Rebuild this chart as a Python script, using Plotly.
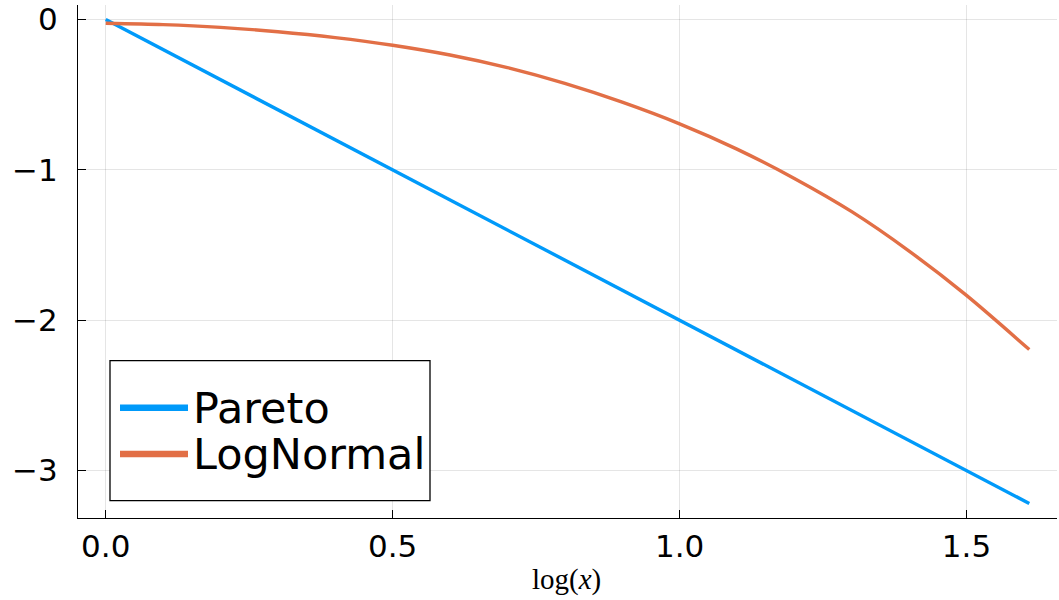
import plotly.graph_objects as go

# ---- data ----
pareto_x = [0.0, 0.5, 1.0, 1.5, 1.6094]
pareto_y = [0.0, -1.0, -2.0, -3.0, -3.2189]

lognormal_x = [0.0, 0.1, 0.2, 0.3, 0.4, 0.5, 0.6, 0.7, 0.8, 0.9, 1.0,
               1.1, 1.2, 1.3, 1.4, 1.5, 1.6094]
lognormal_y = [-0.025, -0.034, -0.052, -0.081, -0.120, -0.171, -0.236, -0.320,
               -0.425, -0.550, -0.694, -0.862, -1.057, -1.278, -1.540, -1.835, -2.195]

series_names = ["Pareto", "LogNormal"]
series_colors = ["#009AFA", "#E26F46"]
x_ticks = [0.0, 0.5, 1.0, 1.5]
y_ticks = [0, -1, -2, -3]

W, H = 1059, 600
L, R, T, B = 78, 2, 5, 82
PW, PH = W - L - R, H - T - B


def px(xp):
    return (xp - L) / PW


def py(yp):
    return (H - B - yp) / PH


fig = go.Figure()
fig.add_trace(go.Scatter(x=pareto_x, y=pareto_y, mode="lines", name=series_names[0],
                         line=dict(color=series_colors[0], width=3.4), showlegend=False))
fig.add_trace(go.Scatter(x=lognormal_x, y=lognormal_y, mode="lines", name=series_names[1],
                         line=dict(color=series_colors[1], width=3.4, shape="spline", smoothing=0.8),
                         showlegend=False))

shapes = [dict(type="rect", xref="paper", yref="paper",
               x0=px(110), x1=px(430), y0=py(500.7), y1=py(360.7),
               line=dict(color="black", width=1.3), fillcolor="white", layer="above")]
annotations = []
legend_rows = [407.7, 454.0]
for name, color, yrow in zip(series_names, series_colors, legend_rows):
    shapes.append(dict(type="line", xref="paper", yref="paper",
                       x0=px(120), x1=px(188), y0=py(yrow), y1=py(yrow),
                       line=dict(color=color, width=6.5), layer="above"))
    annotations.append(dict(xref="paper", yref="paper", x=px(191), y=py(yrow),
                            xanchor="left", yanchor="middle", showarrow=False,
                            text=name, font=dict(family="DejaVu Sans", size=43, color="black")))

annotations.append(dict(xref="paper", yref="paper", x=px(566.5), y=py(579),
                        xanchor="center", yanchor="middle", showarrow=False,
                        text="log(<i>x</i>)",
                        font=dict(family="Liberation Serif", size=29, color="black")))

axis_common = dict(showgrid=True, gridcolor="rgba(0,0,0,0.1)", gridwidth=1,
                   zeroline=False, showline=True, linecolor="black", linewidth=1.3,
                   ticks="inside", ticklen=8, tickwidth=1.3, tickcolor="black",
                   tickfont=dict(family="DejaVu Sans", size=31, color="black"),
                   mirror=False)

fig.update_layout(
    width=W, height=H,
    margin=dict(l=L, r=R, t=T, b=B, pad=0),
    paper_bgcolor="white", plot_bgcolor="white",
    showlegend=False,
    shapes=shapes, annotations=annotations,
    xaxis=dict(range=[-0.0483, 1.6577], tickvals=x_ticks, tickformat=".1f",
               ticklabelstandoff=1, **axis_common),
    yaxis=dict(range=[-3.3155, 0.0966], tickvals=y_ticks,
               ticktext=[("\u2212" + str(-v)) if v < 0 else str(v) for v in y_ticks],
               ticklabelstandoff=13, **axis_common),
)

fig.write_html("out.html")
